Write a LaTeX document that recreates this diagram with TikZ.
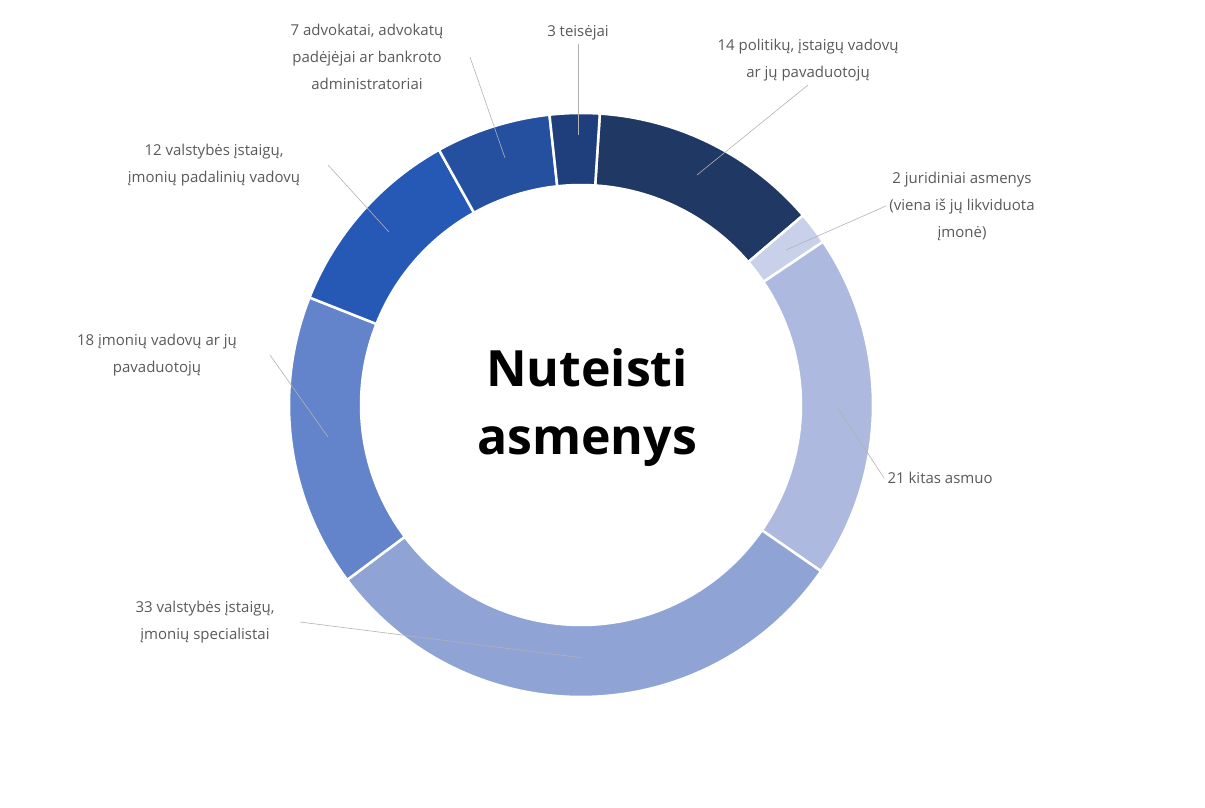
\documentclass[tikz,border=0pt]{standalone}
\usepackage{fontspec}
\setmainfont{Open Sans}
\usepackage{xcolor}
\definecolor{cPol}{HTML}{203864}
\definecolor{cJur}{HTML}{C9D1EA}
\definecolor{cKit}{HTML}{ADB9DE}
\definecolor{cSpec}{HTML}{8FA4D5}
\definecolor{cImon}{HTML}{6383CA}
\definecolor{cPad}{HTML}{2659B5}
\definecolor{cAdv}{HTML}{24509F}
\definecolor{cTeis}{HTML}{1F3F7C}
\definecolor{cLbl}{HTML}{595959}
\usetikzlibrary{positioning,calc}

\begin{document}
\begin{tikzpicture}[x=1pt,y=1pt]
	\tikzstyle{every node}=[font=\fontsize{15}{27}\selectfont, text=cLbl, align=center]
	\tikzstyle{leader}=[draw=gray!60, line width=0.6pt]
	\useasboundingbox (0,0) rectangle (1205,808);
	\coordinate (c) at (581,403);
	% ring slices
	\foreach \a/\b/\col in {86.3/40.5/cPol, 40.5/34.0/cJur, 34.0/-34.7/cKit, -34.7/-143.2/cSpec,
		-143.2/-201.6/cImon, -201.6/-240.9/cPad, -240.9/-263.8/cAdv, -263.8/-273.7/cTeis}
		\filldraw[fill=\col, draw=white, line width=2.5pt]
			($(c)+(\a:292)$) arc (\a:\b:292) -- ($(c)+(\b:220)$) arc (\b:\a:220) -- cycle;
	\node [font=\fontsize{50}{68}\selectfont\bfseries, text=black] (title) at (587,400) {Nuteisti\\asmenys};
	% labels
	\node (lAdv) at (367,751) {7 advokatai, advokatų\\padėjėjai ar bankroto\\administratoriai};
	\node (lTeis) at (578,775) {3 teisėjai};
	\node (lPol) at (808,748) {14 politikų, įstaigų vadovų\\ar jų pavaduotojų};
	\node (lJur) at (962,602) {2 juridiniai asmenys\\(viena iš jų likviduota\\įmonė)};
	\node [anchor=west] (lKit) at (884,330) {21 kitas asmuo};
	\node (lSpec) at (205,186) {33 valstybės įstaigų,\\įmonių specialistai};
	\node (lImon) at (157,453) {18 įmonių vadovų ar jų\\pavaduotojų};
	\node (lPad) at (214,643) {12 valstybės įstaigų,\\įmonių padalinių vadovų};
	% leader lines
	\coordinate (pAdv) at (505,650);
	\coordinate (pTeis) at (578,673);
	\coordinate (pPol) at (697,633);
	\coordinate (pJur) at (786,558);
	\coordinate (pKit) at (838,400);
	\coordinate (pSpec) at (583,150);
	\coordinate (pImon) at (328,371);
	\coordinate (pPad) at (389,576);
	\draw [leader] (470,751) -- (pAdv);
	\draw [leader] (lTeis.south) -- (pTeis);
	\draw [leader] (808,723) -- (pPol);
	\draw [leader] (lJur.west) -- (pJur);
	\draw [leader] (lKit.west) -- (pKit);
	\draw [leader] (300,186) -- (pSpec);
	\draw [leader] (270,453) -- (pImon);
	\draw [leader] (328,643) -- (pPad);
\end{tikzpicture}
\end{document}
